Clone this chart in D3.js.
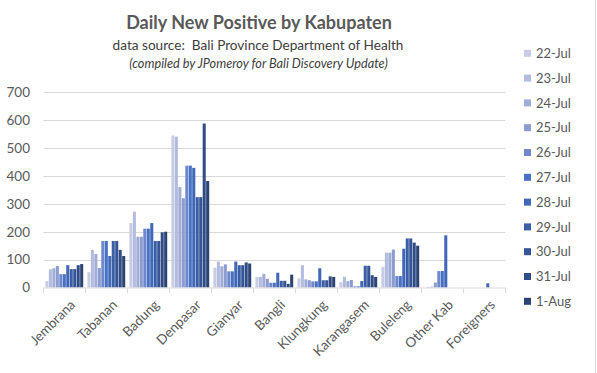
<!DOCTYPE html>
<html><head><meta charset="utf-8">
<script src="https://cdn.jsdelivr.net/npm/d3@7"></script>
<style>
html,body{margin:0;padding:0;background:#fff;}
svg{display:block;font-family:Lato,"Open Sans",sans-serif;}
</style></head>
<body><svg id="c" width="597" height="373"></svg>
<script>
const categories = ["Jembrana","Tabanan","Badung","Denpasar","Gianyar","Bangli","Klungkung","Karangasem","Buleleng","Other Kab","Foreigners"];
const seriesNames = ["22-Jul","23-Jul","24-Jul","25-Jul","26-Jul","27-Jul","28-Jul","29-Jul","30-Jul","31-Jul","1-Aug"];
const seriesColors = ["#c8cde5","#b3bcdf","#a1acd7","#8c9cd0","#6e88cb","#4671c5","#4067b8","#3b5ea6","#365596","#314c86","#2c4474"];
// values per category, one per date (22-Jul .. 1-Aug)
const jembrana   = [23, 65, 69, 77, 48, 48, 80, 66, 66, 80, 84];
const tabanan    = [55, 135, 120, 70, 167, 167, 113, 167, 167, 135, 113];
const badung     = [231, 272, 182, 182, 211, 211, 231, 167, 167, 198, 200];
const denpasar   = [545, 541, 360, 320, 437, 437, 429, 324, 324, 588, 382];
const gianyar    = [71, 93, 76, 83, 58, 58, 93, 80, 80, 90, 86];
const bangli     = [38, 38, 49, 31, 17, 17, 53, 24, 24, 13, 46];
const klungkung  = [33, 80, 29, 26, 22, 22, 69, 26, 26, 40, 38];
const karangasem = [19, 38, 23, 27, 4, 4, 23, 78, 78, 44, 38];
const buleleng   = [74, 125, 125, 136, 41, 41, 139, 176, 176, 161, 150];
const otherKab   = [0, 2, 3, 18, 59, 59, 187, 0, 0, 0, 0];
const foreigners = [0, 0, 0, 0, 0, 0, 15, 0, 0, 0, 0];
const yTicks = [0, 100, 200, 300, 400, 500, 600, 700];

const values = [jembrana, tabanan, badung, denpasar, gianyar, bangli, klungkung, karangasem, buleleng, otherKab, foreigners];

const svg = d3.select("#c");
const x0 = d3.scaleBand().domain(categories).range([43.3, 505.3]).padding(0);
const x1 = d3.scaleBand().domain(seriesNames).range([0, x0.bandwidth()]).paddingInner(0.12).paddingOuter(0.6);
const y = d3.scaleLinear().domain([0, 700]).range([287.5, 92.3]);
const color = d3.scaleOrdinal().domain(seriesNames).range(seriesColors);

// right border
svg.append("line").attr("x1",595.5).attr("x2",595.5).attr("y1",0).attr("y2",373).attr("stroke","#d9d9d9");

// gridlines
svg.append("g").selectAll("line").data(yTicks.filter(d=>d>0)).join("line")
  .attr("x1",43.3).attr("x2",505.3)
  .attr("y1",d=>Math.round(y(d))+0.5).attr("y2",d=>Math.round(y(d))+0.5)
  .attr("stroke","#d9d9d9").attr("stroke-width",1);

// y labels
svg.append("g").selectAll("text").data(yTicks).join("text")
  .attr("x",30).attr("y",d=>y(d)).attr("dy","0.36em")
  .attr("text-anchor","end").attr("font-size",13.5).attr("fill","#595959")
  .text(d=>d);

// bars
const groups = svg.append("g").selectAll("g").data(categories).join("g")
  .attr("transform",c=>`translate(${x0(c)},0)`);
groups.selectAll("rect").data((c,i)=>seriesNames.map((s,j)=>({s,v:values[i][j]}))).join("rect")
  .attr("x",d=>x1(d.s)).attr("width",x1.bandwidth())
  .attr("y",d=>y(d.v)).attr("height",d=>y(0)-y(d.v))
  .attr("fill",d=>color(d.s));

// x axis line and ticks
svg.append("line").attr("x1",43.3).attr("x2",505.3).attr("y1",288).attr("y2",288).attr("stroke","#d9d9d9");
const bounds = categories.map(c=>x0(c)).concat([505.3]);
svg.append("g").selectAll("line").data(bounds).join("line")
  .attr("x1",d=>Math.round(d)+0.5).attr("x2",d=>Math.round(d)+0.5).attr("y1",288).attr("y2",293)
  .attr("stroke","#d9d9d9");

// x labels
svg.append("g").selectAll("text").data(categories).join("text")
  .attr("transform",c=>`translate(${x0(c)+x0.bandwidth()/2+5},${299}) rotate(-45)`)
  .attr("text-anchor","end").attr("dy","0.7em").attr("font-size",13.5).attr("fill","#595959")
  .text(c=>c);

// titles
svg.append("text").attr("x",259).attr("y",28.5).attr("text-anchor","middle")
  .attr("font-size",18).attr("font-weight","bold").attr("fill","#595959")
  .text("Daily New Positive by Kabupaten");
svg.append("text").attr("x",258).attr("y",50).attr("text-anchor","middle")
  .attr("font-size",13.6).attr("fill","#404040").attr("xml:space","preserve")
  .text("data source:  Bali Province Department of Health");
svg.append("text").attr("x",258.5).attr("y",68).attr("text-anchor","middle")
  .attr("font-size",12.7).attr("font-style","italic").attr("fill","#404040")
  .text("(compiled by JPomeroy for Bali Discovery Update)");

// legend
const lg = svg.append("g").selectAll("g").data(seriesNames).join("g")
  .attr("transform",(d,i)=>`translate(524,${53.3+i*24.8})`);
lg.append("rect").attr("x",0).attr("y",-3.5).attr("width",7).attr("height",7).attr("fill",d=>color(d));
lg.append("text").attr("x",12).attr("y",0).attr("dy","0.36em").attr("font-size",13).attr("fill","#595959").text(d=>d);
</script>
</body></html>
